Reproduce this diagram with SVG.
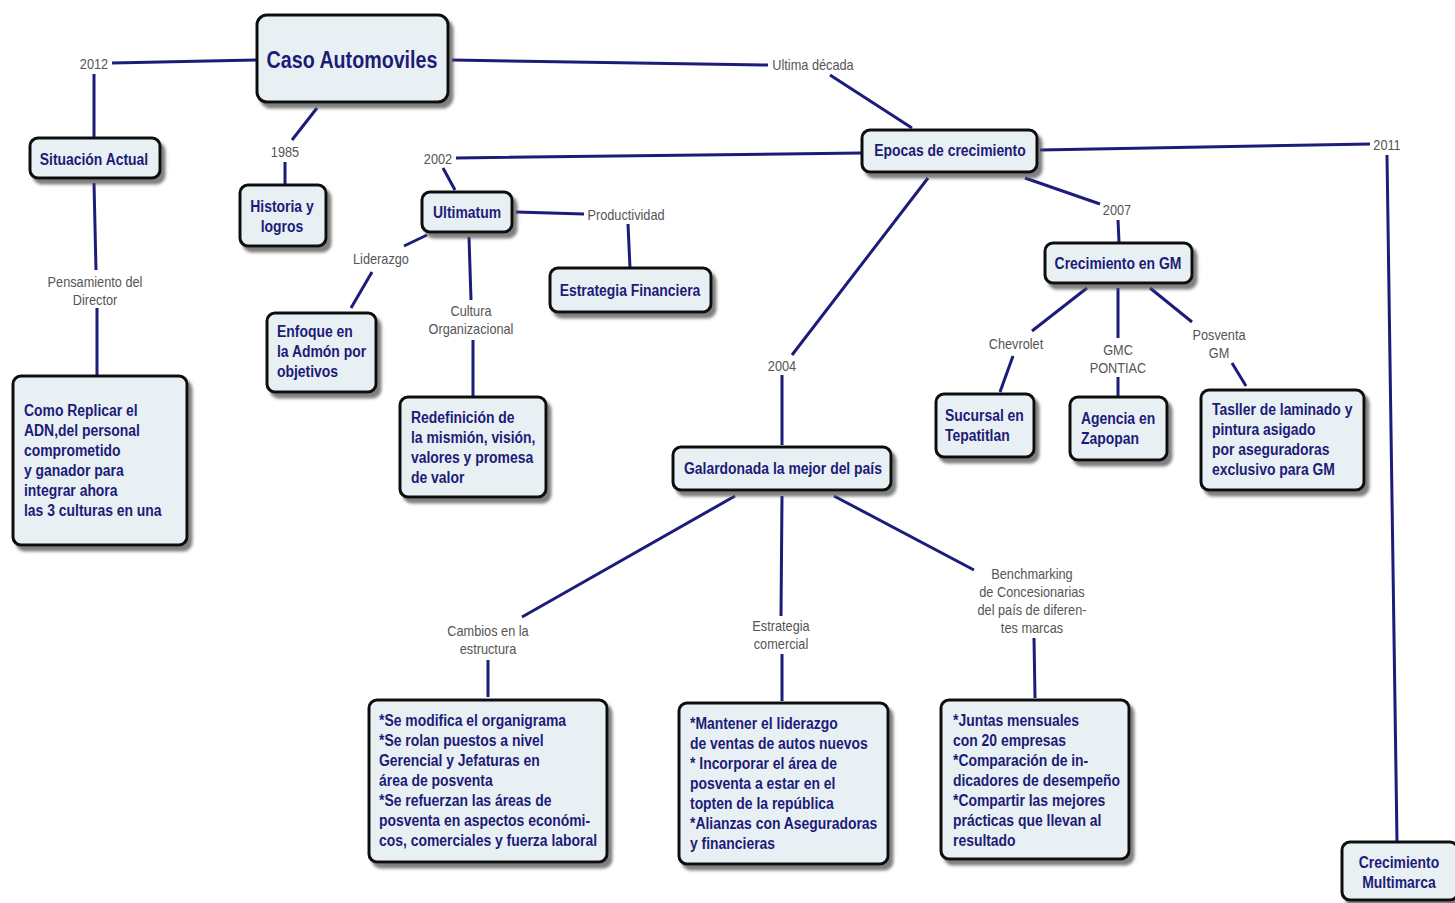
<svg xmlns="http://www.w3.org/2000/svg" width="1455" height="903" viewBox="0 0 1455 903">
<defs>
<filter id="sh" x="-20%" y="-20%" width="140%" height="150%">
<feDropShadow dx="4" dy="5" stdDeviation="1.8" flood-color="#555" flood-opacity="0.75"/>
</filter>
<style>
.box{fill:#e9f0f4;stroke:#111;stroke-width:3;filter:url(#sh)}
.t{font-family:"Liberation Sans Narrow","Arial Narrow","Liberation Sans",sans-serif;font-weight:bold;font-size:16px;fill:#1c1c78}
.c{text-anchor:middle}
.lb{font-family:"Liberation Sans Narrow","Arial Narrow","Liberation Sans",sans-serif;font-size:14px;fill:#555;text-anchor:middle}
.ln{stroke:#1c1c7a;stroke-width:3;fill:none;stroke-linecap:butt}
</style>
</defs>
<rect width="1455" height="903" fill="#fff"/>
<g id="connectors">
<path class="ln" d="M257,60 L112,63 M94,74 L94,138"/>
<path class="ln" d="M94,183 L96,270 M97,308 L97,376"/>
<path class="ln" d="M317,108 L292,140 M285,162 L285,185"/>
<path class="ln" d="M452,60 L768,65 M830,75 L912,128"/>
<path class="ln" d="M862,153 L456,158 M443,168 L455,190"/>
<path class="ln" d="M516,212 L584,214 M628,224 L630,268"/>
<path class="ln" d="M427,235 L404,246 M372,272 L351,308"/>
<path class="ln" d="M469,237 L471,300 M473,340 L473,397"/>
<path class="ln" d="M1040,150 L1370,144 M1387,155 L1397,842"/>
<path class="ln" d="M1025,178 L1100,204 M1118,220 L1119,242"/>
<path class="ln" d="M928,178 L792,355 M782,375 L782,445"/>
<path class="ln" d="M1087,288 L1032,331 M1013,356 L1000,392"/>
<path class="ln" d="M1118,288 L1118,338 M1118,377 L1118,396"/>
<path class="ln" d="M1150,288 L1192,322 M1232,363 L1246,386"/>
<path class="ln" d="M735,496 L522,617 M488,660 L488,697"/>
<path class="ln" d="M782,496 L781,616 M782,654 L782,701"/>
<path class="ln" d="M834,496 L974,570 M1034,638 L1035,698"/>
</g>
<g id="labels">
<text class="lb" x="94" y="69" transform="matrix(0.91,0,0,1,8.46,0)">2012</text>
<text class="lb" x="285" y="157" transform="matrix(0.91,0,0,1,25.65,0)">1985</text>
<text class="lb" x="438" y="164" transform="matrix(0.91,0,0,1,39.42,0)">2002</text>
<text class="lb" x="381" y="264" transform="matrix(0.91,0,0,1,34.29,0)">Liderazgo</text>
<text class="lb" x="626" y="220" transform="matrix(0.91,0,0,1,56.34,0)">Productividad</text>
<g transform="matrix(0.91,0,0,1,42.39,0)">
<text class="lb" x="471" y="316">Cultura</text>
<text class="lb" x="471" y="334">Organizacional</text>
</g>
<g transform="matrix(0.91,0,0,1,8.55,0)">
<text class="lb" x="95" y="287">Pensamiento del</text>
<text class="lb" x="95" y="305">Director</text>
</g>
<text class="lb" x="813" y="70" transform="matrix(0.91,0,0,1,73.17,0)">Ultima década</text>
<text class="lb" x="1387" y="150" transform="matrix(0.91,0,0,1,124.83,0)">2011</text>
<text class="lb" x="1117" y="215" transform="matrix(0.91,0,0,1,100.53,0)">2007</text>
<text class="lb" x="782" y="371" transform="matrix(0.91,0,0,1,70.38,0)">2004</text>
<text class="lb" x="1016" y="349" transform="matrix(0.91,0,0,1,91.44,0)">Chevrolet</text>
<g transform="matrix(0.91,0,0,1,100.62,0)">
<text class="lb" x="1118" y="355">GMC</text>
<text class="lb" x="1118" y="373">PONTIAC</text>
</g>
<g transform="matrix(0.91,0,0,1,109.71,0)">
<text class="lb" x="1219" y="340">Posventa</text>
<text class="lb" x="1219" y="358">GM</text>
</g>
<g transform="matrix(0.91,0,0,1,43.92,0)">
<text class="lb" x="488" y="636">Cambios en la</text>
<text class="lb" x="488" y="654">estructura</text>
</g>
<g transform="matrix(0.91,0,0,1,70.29,0)">
<text class="lb" x="781" y="631">Estrategia</text>
<text class="lb" x="781" y="649">comercial</text>
</g>
<g transform="matrix(0.91,0,0,1,92.88,0)">
<text class="lb" x="1032" y="579">Benchmarking</text>
<text class="lb" x="1032" y="597">de Concesionarias</text>
<text class="lb" x="1032" y="615">del país de diferen-</text>
<text class="lb" x="1032" y="633">tes marcas</text>
</g>
</g>
<g id="n-caso">
<rect class="box" x="257" y="15" width="191" height="87" rx="10"/>
<text class="t c" x="352" y="68" style="font-size:24px" transform="matrix(0.82,0,0,1,63.36,0)">Caso Automoviles</text>
</g>
<g id="n-situacion">
<rect class="box" x="30" y="138" width="130" height="40" rx="8"/>
<text class="t c" x="94" y="165" transform="matrix(0.87,0,0,1,12.22,0)">Situación Actual</text>
</g>
<g id="n-historia">
<rect class="box" x="240" y="185" width="86" height="61" rx="8"/>
<g transform="matrix(0.87,0,0,1,36.66,0)">
<text class="t c" x="282" y="212">Historia y</text>
<text class="t c" x="282" y="232">logros</text>
</g>
</g>
<g id="n-ultimatum">
<rect class="box" x="422" y="192" width="90" height="40" rx="8"/>
<text class="t c" x="467" y="218" transform="matrix(0.87,0,0,1,60.71,0)">Ultimatum</text>
</g>
<g id="n-estrategia-fin">
<rect class="box" x="550" y="268" width="161" height="44" rx="8"/>
<text class="t c" x="630" y="296" transform="matrix(0.87,0,0,1,81.9,0)">Estrategia Financiera</text>
</g>
<g id="n-enfoque">
<rect class="box" x="267" y="313" width="109" height="79" rx="8"/>
<g transform="matrix(0.87,0,0,1,36.01,0)">
<text class="t" x="277" y="337">Enfoque en</text>
<text class="t" x="277" y="357">la Admón por</text>
<text class="t" x="277" y="377">objetivos</text>
</g>
</g>
<g id="n-redefinicion">
<rect class="box" x="400" y="397" width="146" height="100" rx="8"/>
<g transform="matrix(0.87,0,0,1,53.43,0)">
<text class="t" x="411" y="423">Redefinición de</text>
<text class="t" x="411" y="443">la mismión, visión,</text>
<text class="t" x="411" y="463">valores y promesa</text>
<text class="t" x="411" y="483">de valor</text>
</g>
</g>
<g id="n-como">
<rect class="box" x="13" y="376" width="174" height="169" rx="8"/>
<g transform="matrix(0.87,0,0,1,3.12,0)">
<text class="t" x="24" y="416">Como Replicar el</text>
<text class="t" x="24" y="436">ADN,del personal</text>
<text class="t" x="24" y="456">comprometido</text>
<text class="t" x="24" y="476">y ganador para</text>
<text class="t" x="24" y="496">integrar ahora</text>
<text class="t" x="24" y="516">las 3 culturas en una</text>
</g>
</g>
<g id="n-epocas">
<rect class="box" x="862" y="130" width="175" height="42" rx="8"/>
<text class="t c" x="950" y="156" transform="matrix(0.87,0,0,1,123.5,0)">Epocas de crecimiento</text>
</g>
<g id="n-galardonada">
<rect class="box" x="673" y="447" width="218" height="43" rx="8"/>
<text class="t c" x="783" y="474" transform="matrix(0.87,0,0,1,101.79,0)">Galardonada la mejor del país</text>
</g>
<g id="n-crecgm">
<rect class="box" x="1045" y="243" width="147" height="40" rx="8"/>
<text class="t c" x="1118" y="269" transform="matrix(0.87,0,0,1,145.34,0)">Crecimiento en GM</text>
</g>
<g id="n-sucursal">
<rect class="box" x="936" y="394" width="98" height="63" rx="8"/>
<g transform="matrix(0.87,0,0,1,122.85,0)">
<text class="t" x="945" y="421">Sucursal en</text>
<text class="t" x="945" y="441">Tepatitlan</text>
</g>
</g>
<g id="n-agencia">
<rect class="box" x="1070" y="397" width="97" height="63" rx="8"/>
<g transform="matrix(0.87,0,0,1,140.53,0)">
<text class="t" x="1081" y="424">Agencia en</text>
<text class="t" x="1081" y="444">Zapopan</text>
</g>
</g>
<g id="n-tasller">
<rect class="box" x="1201" y="390" width="163" height="100" rx="8"/>
<g transform="matrix(0.87,0,0,1,157.56,0)">
<text class="t" x="1212" y="415">Tasller de laminado y</text>
<text class="t" x="1212" y="435">pintura asigado</text>
<text class="t" x="1212" y="455">por aseguradoras</text>
<text class="t" x="1212" y="475">exclusivo para GM</text>
</g>
</g>
<g id="n-cambios">
<rect class="box" x="369" y="700" width="238" height="162" rx="8"/>
<g transform="matrix(0.87,0,0,1,49.27,0)">
<text class="t" x="379" y="726">*Se modifica el organigrama</text>
<text class="t" x="379" y="746">*Se rolan puestos a nivel</text>
<text class="t" x="379" y="766">Gerencial y Jefaturas en</text>
<text class="t" x="379" y="786">área de posventa</text>
<text class="t" x="379" y="806">*Se refuerzan las áreas de</text>
<text class="t" x="379" y="826">posventa en aspectos económi-</text>
<text class="t" x="379" y="846">cos, comerciales y fuerza laboral</text>
</g>
</g>
<g id="n-comercial">
<rect class="box" x="679" y="703" width="209" height="161" rx="8"/>
<g transform="matrix(0.87,0,0,1,89.7,0)">
<text class="t" x="690" y="729">*Mantener el liderazgo</text>
<text class="t" x="690" y="749">de ventas de autos nuevos</text>
<text class="t" x="690" y="769">* Incorporar el área de</text>
<text class="t" x="690" y="789">posventa a estar en el</text>
<text class="t" x="690" y="809">topten de la república</text>
<text class="t" x="690" y="829">*Alianzas con Aseguradoras</text>
<text class="t" x="690" y="849">y financieras</text>
</g>
</g>
<g id="n-benchmarking">
<rect class="box" x="941" y="700" width="188" height="159" rx="8"/>
<g transform="matrix(0.87,0,0,1,123.89,0)">
<text class="t" x="953" y="726">*Juntas mensuales</text>
<text class="t" x="953" y="746">con 20 empresas</text>
<text class="t" x="953" y="766">*Comparación de in-</text>
<text class="t" x="953" y="786">dicadores de desempeño</text>
<text class="t" x="953" y="806">*Compartir las mejores</text>
<text class="t" x="953" y="826">prácticas que llevan al</text>
<text class="t" x="953" y="846">resultado</text>
</g>
</g>
<g id="n-multimarca">
<rect class="box" x="1342" y="842" width="116" height="58" rx="8"/>
<g transform="matrix(0.87,0,0,1,181.87,0)">
<text class="t c" x="1399" y="868">Crecimiento</text>
<text class="t c" x="1399" y="888">Multimarca</text>
</g>
</g>
</svg>
